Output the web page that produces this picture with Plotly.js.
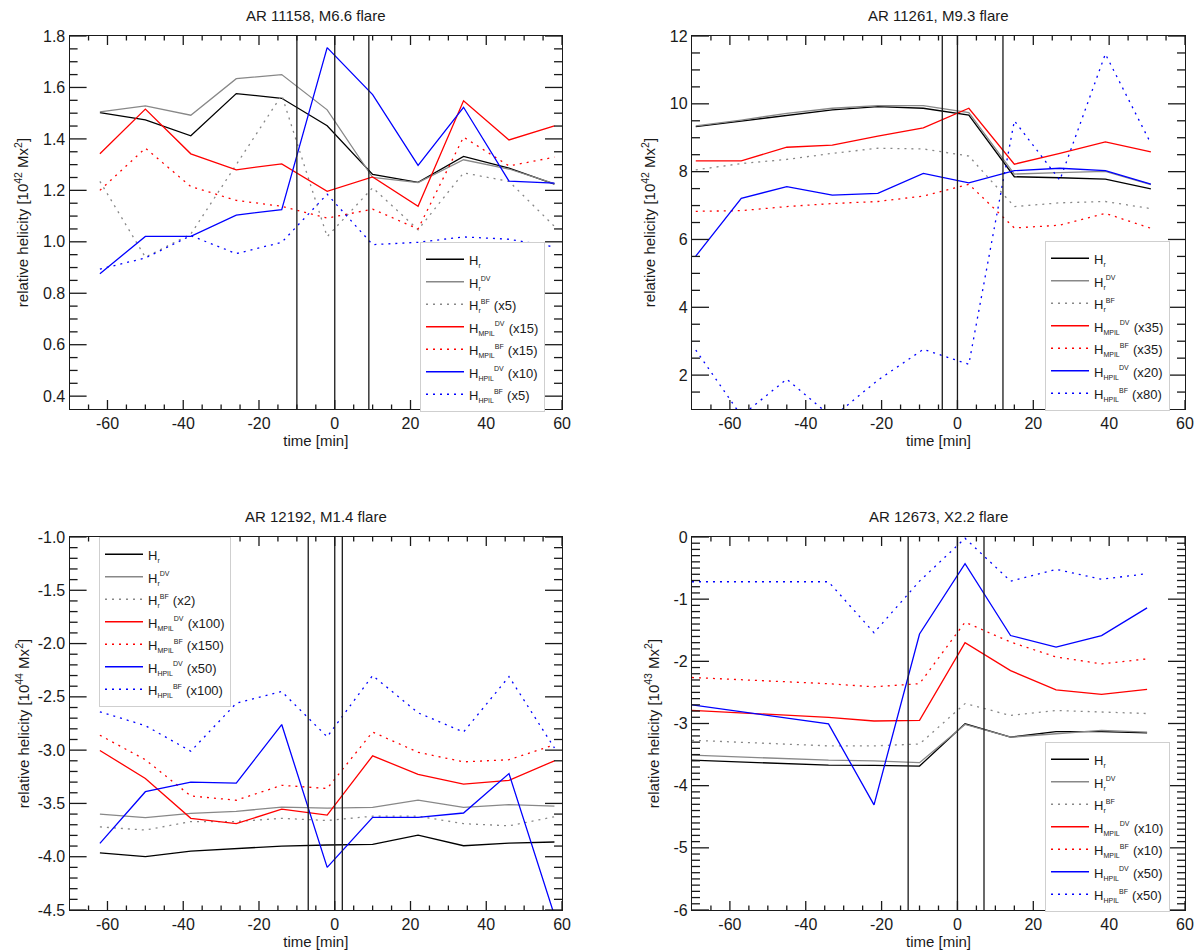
<!DOCTYPE html>
<html>
<head>
<meta charset="utf-8">
<script src="https://cdn.plot.ly/plotly-3.0.1.min.js"></script>
<style>
  html, body { margin: 0; padding: 0; background: #fff; }
  .panel { position: absolute; width: 600px; height: 475px; }
  #p1 { left: 0; top: 0; }
  #p2 { left: 600px; top: 0; }
  #p3 { left: 0; top: 475px; }
  #p4 { left: 600px; top: 475px; }
</style>
</head>
<body>
<div class="panel" id="p1"></div>
<div class="panel" id="p2"></div>
<div class="panel" id="p3"></div>
<div class="panel" id="p4"></div>
<script>
// relative helicity time profiles around four flares, one plot per panel

// --- AR 11158, M6.6 ---
const t1 = [-62, -50, -38, -26, -14, -2, 10, 22, 34, 46, 58];
const hr1     = [1.502, 1.474, 1.412, 1.576, 1.558, 1.451, 1.262, 1.231, 1.332, 1.286, 1.224];
const hrDV1   = [1.505, 1.528, 1.492, 1.634, 1.650, 1.513, 1.250, 1.230, 1.319, 1.283, 1.226];
const hrBF1   = [1.235, 0.940, 1.030, 1.300, 1.570, 1.020, 1.210, 1.047, 1.268, 1.235, 1.060];
const mpilDV1 = [1.342, 1.516, 1.342, 1.280, 1.303, 1.196, 1.252, 1.138, 1.548, 1.396, 1.451];
const mpilBF1 = [1.200, 1.364, 1.215, 1.161, 1.138, 1.092, 1.127, 1.050, 1.407, 1.295, 1.329];
const hpilDV1 = [0.876, 1.021, 1.021, 1.104, 1.125, 1.755, 1.572, 1.297, 1.523, 1.236, 1.228];
const hpilBF1 = [0.894, 0.937, 1.024, 0.954, 0.998, 1.185, 0.989, 0.998, 1.019, 1.010, 0.980];
const flare1 = [-10, 0, 9];
const labels1 = ["", "", "(x5)", "(x15)", "(x15)", "(x10)", "(x5)"];

// --- AR 11261, M9.3 ---
const t2 = [-69, -57, -45, -33, -21, -9, 3, 15, 27, 39, 51];
const hr2     = [9.33, 9.50, 9.67, 9.82, 9.92, 9.87, 9.67, 7.85, 7.82, 7.78, 7.49];
const hrDV2   = [9.35, 9.52, 9.72, 9.87, 9.95, 9.95, 9.74, 7.93, 7.97, 8.01, 7.62];
const hrBF2   = [8.05, 8.24, 8.36, 8.54, 8.69, 8.67, 8.46, 6.97, 7.08, 7.12, 6.91];
const mpilDV2 = [8.32, 8.32, 8.72, 8.78, 9.05, 9.29, 9.87, 8.22, 8.54, 8.88, 8.58];
const mpilBF2 = [6.83, 6.85, 6.97, 7.06, 7.12, 7.28, 7.63, 6.34, 6.42, 6.77, 6.33];
const hpilDV2 = [5.51, 7.21, 7.56, 7.31, 7.36, 7.95, 7.67, 8.03, 8.10, 8.03, 7.63];
const hpilBF2 = [2.74, 0.80, 1.88, 0.75, 1.85, 2.76, 2.32, 9.50, 7.75, 11.47, 8.83];
const flare2 = [-4, 0, 12];
const labels2 = ["", "", "", "(x35)", "(x35)", "(x20)", "(x80)"];

// --- AR 12192, M1.4 ---
const t3 = [-62, -50, -38, -26, -14, -2, 10, 22, 34, 46, 58];
const hr3     = [-3.963, -4.000, -3.947, -3.922, -3.900, -3.890, -3.884, -3.797, -3.897, -3.872, -3.862];
const hrDV3   = [-3.600, -3.634, -3.594, -3.575, -3.534, -3.544, -3.537, -3.469, -3.537, -3.512, -3.525];
const hrBF3   = [-3.720, -3.750, -3.670, -3.670, -3.640, -3.660, -3.620, -3.620, -3.690, -3.710, -3.625];
const mpilDV3 = [-3.003, -3.266, -3.640, -3.690, -3.553, -3.610, -3.053, -3.228, -3.319, -3.284, -3.100];
const mpilBF3 = [-2.860, -3.090, -3.430, -3.470, -3.330, -3.360, -2.830, -3.020, -3.110, -3.090, -2.950];
const hpilDV3 = [-3.875, -3.390, -3.300, -3.310, -2.760, -4.100, -3.630, -3.630, -3.590, -3.220, -4.550];
const hpilBF3 = [-2.640, -2.770, -3.010, -2.560, -2.450, -2.875, -2.300, -2.650, -2.830, -2.310, -2.980];
const flare3 = [-7, 0, 2];
const labels3 = ["", "", "(x2)", "(x100)", "(x150)", "(x50)", "(x100)"];

// --- AR 12673, X2.2 ---
const t4 = [-70, -34, -22, -10, 2, 14, 26, 38, 50];
const hr4     = [-3.59, -3.67, -3.675, -3.685, -3.005, -3.22, -3.13, -3.13, -3.15];
const hrDV4   = [-3.51, -3.59, -3.60, -3.63, -3.015, -3.22, -3.165, -3.11, -3.14];
const hrBF4   = [-3.27, -3.36, -3.36, -3.33, -2.68, -2.87, -2.79, -2.81, -2.84];
const mpilDV4 = [-2.79, -2.90, -2.96, -2.95, -1.70, -2.15, -2.46, -2.53, -2.45];
const mpilBF4 = [-2.26, -2.36, -2.41, -2.36, -1.37, -1.69, -1.93, -2.04, -1.96];
const hpilDV4 = [-2.70, -3.005, -4.31, -1.56, -0.43, -1.585, -1.77, -1.585, -1.14];
const hpilBF4 = [-0.72, -0.72, -1.54, -0.71, -0.02, -0.71, -0.52, -0.68, -0.59];
const flare4 = [-13, 0, 7];
const labels4 = ["", "", "", "(x10)", "(x10)", "(x50)", "(x50)"];

// tick labels (hyphen-minus as in the original)
const xTicks = [-60, -40, -20, 0, 20, 40, 60];
const xTickText = ["-60", "-40", "-20", "0", "20", "40", "60"];
const yTicks1 = [0.4, 0.6, 0.8, 1.0, 1.2, 1.4, 1.6, 1.8];
const yTickText1 = ["0.4", "0.6", "0.8", "1.0", "1.2", "1.4", "1.6", "1.8"];
const yTicks2 = [2, 4, 6, 8, 10, 12];
const yTickText2 = ["2", "4", "6", "8", "10", "12"];
const yTicks3 = [-4.5, -4.0, -3.5, -3.0, -2.5, -2.0, -1.5, -1.0];
const yTickText3 = ["-4.5", "-4.0", "-3.5", "-3.0", "-2.5", "-2.0", "-1.5", "-1.0"];
const yTicks4 = [-6, -5, -4, -3, -2, -1, 0];
const yTickText4 = ["-6", "-5", "-4", "-3", "-2", "-1", "0"];

const titles = ["AR 11158, M6.6 flare", "AR 11261, M9.3 flare", "AR 12192, M1.4 flare", "AR 12673, X2.2 flare"];
const yUnits = ["10<sup>42</sup>", "10<sup>42</sup>", "10<sup>44</sup>", "10<sup>43</sup>"];

const FONT = "Liberation Sans, Arial, Helvetica, sans-serif";
const INK = "#1a1a1a";
const W = 600, H = 475;

const sm = s => '<span style="font-size:7px">' + s + '</span>';
const big = s => '<span style="font-size:13px">' + s + '</span>';
const names = [
  ["r", ""], ["r", "DV"], ["r", "BF"],
  ["MPIL", "DV"], ["MPIL", "BF"], ["HPIL", "DV"], ["HPIL", "BF"]
].map(([lo, hi]) => big("H") + "<sub>" + sm(lo) + "</sub>" + (hi ? "<sup>" + sm(hi) + "</sup>" : ""));
const styles = [
  { color: "#000000", dash: "solid" },
  { color: "#888888", dash: "solid" },
  { color: "#888888", dash: "2px,5px" },
  { color: "#ff0000", dash: "solid" },
  { color: "#ff0000", dash: "2px,5px" },
  { color: "#0000ff", dash: "solid" },
  { color: "#0000ff", dash: "2px,5px" }
];

const panels = [
  { id: "p1", t: t1, s: [hr1, hrDV1, hrBF1, mpilDV1, mpilBF1, hpilDV1, hpilBF1], f: flare1, lab: labels1, yt: yTicks1, ytt: yTickText1 },
  { id: "p2", t: t2, s: [hr2, hrDV2, hrBF2, mpilDV2, mpilBF2, hpilDV2, hpilBF2], f: flare2, lab: labels2, yt: yTicks2, ytt: yTickText2 },
  { id: "p3", t: t3, s: [hr3, hrDV3, hrBF3, mpilDV3, mpilBF3, hpilDV3, hpilBF3], f: flare3, lab: labels3, yt: yTicks3, ytt: yTickText3 },
  { id: "p4", t: t4, s: [hr4, hrDV4, hrBF4, mpilDV4, mpilBF4, hpilDV4, hpilBF4], f: flare4, lab: labels4, yt: yTicks4, ytt: yTickText4 }
];

// panel geometry inside each 600x475 box
const xRange = [-70, 60];
const xDom = [[0.116, 0.9367], [0.1533, 0.975], [0.116, 0.9367], [0.1533, 0.975]];
const yDom = [[0.1389, 0.9242], [0.1389, 0.9242], [0.0842, 0.8695], [0.0842, 0.8695]];
const yRange = [[0.35, 1.8], [1, 12], [-4.5, -1], [-6, 0]];
const yMinor = [0.05, 0.5, 0.1, 0.1];
const yStand = [10, 10, 4, 10];
const legPos = [[0.70, 0.4905], [0.7417, 0.4926], [0.165, 0.8695], [0.7417, 0.4379]];

// minor tick positions between the range ends, skipping the labelled ones
function minorVals(range, step, majors) {
  const out = [];
  for (let i = Math.ceil(range[0] / step); i <= Math.floor(range[1] / step); i++) {
    const v = +(i * step).toFixed(4);
    if (v <= range[0] || v >= range[1]) continue;
    if (majors.some(m => Math.abs(m - v) < step / 10)) continue;
    out.push(v);
  }
  return out;
}

// IDL-style inward ticks on all four sides; lengths given in px, turned into domain fractions
function tickShapes(k, xMaj, xMin, yMaj, yMin) {
  const out = [];
  const ln = { color: INK, width: 1.3 };
  const fy = px => px / ((yDom[k][1] - yDom[k][0]) * H);
  const fx = px => px / ((xDom[k][1] - xDom[k][0]) * W);
  const xt = (v, len) => {
    out.push({ type: "line", xref: "x", yref: "y domain", x0: v, x1: v, y0: 0, y1: fy(len), line: ln });
    out.push({ type: "line", xref: "x", yref: "y domain", x0: v, x1: v, y0: 1, y1: 1 - fy(len), line: ln });
  };
  const yt = (v, len) => {
    out.push({ type: "line", yref: "y", xref: "x domain", y0: v, y1: v, x0: 0, x1: fx(len), line: ln });
    out.push({ type: "line", yref: "y", xref: "x domain", y0: v, y1: v, x0: 1, x1: 1 - fx(len), line: ln });
  };
  xMaj.forEach(v => xt(v, 9));
  xMin.forEach(v => xt(v, 4.5));
  yMaj.forEach(v => yt(v, 17));
  yMin.forEach(v => yt(v, 8));
  return out;
}

panels.forEach((p, k) => {
  const traces = p.s.map((vals, i) => ({
    type: "scatter", mode: "lines",
    x: p.t, y: vals,
    name: names[i] + (p.lab[i] ? " " + big(p.lab[i]) : ""),
    line: { color: styles[i].color, dash: styles[i].dash, width: 1.3 },
    hoverinfo: "x+y"
  }));

  const flareLines = p.f.map(tf => ({
    type: "line", xref: "x", yref: "y domain",
    x0: tf, x1: tf, y0: 0, y1: 1,
    line: { color: INK, width: 1.3 }
  }));
  const ticks = tickShapes(k,
    xTicks, minorVals(xRange, 5, xTicks),
    p.yt, minorVals(yRange[k], yMinor[k], p.yt)
  );

  const layout = {
    width: W, height: H,
    margin: { l: 0, r: 0, t: 0, b: 0 },
    paper_bgcolor: "#fff", plot_bgcolor: "#fff",
    font: { family: FONT, color: INK },
    showlegend: true,
    xaxis: {
      domain: xDom[k],
      range: xRange,
      tickmode: "array", tickvals: xTicks, ticktext: xTickText,
      ticks: "",
      showline: true, linecolor: INK, linewidth: 1.3, mirror: true,
      showgrid: false, zeroline: false,
      tickfont: { size: 16, family: FONT, color: INK },
      title: { text: "time [min]", font: { size: 15, family: FONT, color: INK }, standoff: 0 }
    },
    yaxis: {
      domain: yDom[k],
      range: yRange[k],
      tickmode: "array", tickvals: p.yt, ticktext: p.ytt,
      ticks: "",
      showline: true, linecolor: INK, linewidth: 1.3, mirror: true,
      showgrid: false, zeroline: false,
      tickfont: { size: 16, family: FONT, color: INK },
      title: { text: "relative helicity [" + yUnits[k] + " Mx<sup>2</sup>]", font: { size: 15, family: FONT, color: INK }, standoff: yStand[k] }
    },
    legend: {
      x: legPos[k][0], y: legPos[k][1], xanchor: "left", yanchor: "top",
      bgcolor: "#ffffff", bordercolor: "#cfcfcf", borderwidth: 1,
      font: { size: 15, family: FONT, color: INK },
      itemwidth: 38, tracegroupgap: 0
    },
    shapes: flareLines.concat(ticks),
    annotations: [{
      text: titles[k], showarrow: false,
      xref: "x domain", yref: "y domain",
      x: 0.5, y: 1, yanchor: "bottom", yshift: 10,
      font: { size: 15, family: FONT, color: INK }
    }]
  };

  Plotly.newPlot(p.id, traces, layout, { displayModeBar: false });
});
</script>
</body>
</html>
